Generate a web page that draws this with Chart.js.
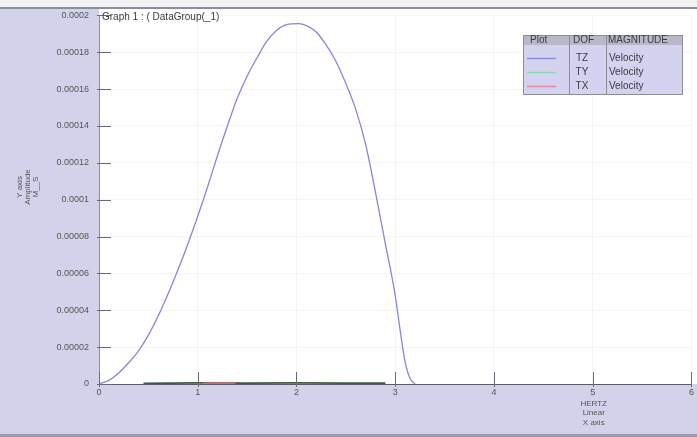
<!DOCTYPE html>
<html>
<head>
<meta charset="utf-8">
<script src="https://cdn.jsdelivr.net/npm/chart.js@4"></script>
<style>
  html, body { margin: 0; padding: 0; background: #d2d3ea; }
  #wrap { width: 697px; height: 437px; }
</style>
</head>
<body>
<div id="wrap"><canvas id="graph" width="697" height="437"></canvas></div>
<script>
// frequency (Hz) and velocity magnitude
const hertzTZ = [0, 0.1, 0.2, 0.3, 0.4, 0.5, 0.6, 0.7, 0.8, 0.9, 1.0, 1.1, 1.2, 1.3, 1.4, 1.5, 1.6, 1.7,
  1.8, 1.9, 2.02, 2.1, 2.2, 2.3, 2.4, 2.5, 2.6, 2.7, 2.8, 2.9, 3.0, 3.05, 3.1, 3.15, 3.2];
const velocityTZ = [0, 0.000002, 0.000006, 0.0000115, 0.000018, 0.0000265, 0.000037, 0.000049,
  0.000062, 0.000076, 0.000091, 0.000107, 0.000124, 0.000140, 0.000155, 0.000167, 0.000177,
  0.000186, 0.000192, 0.000195, 0.0001955, 0.0001945, 0.000191, 0.000184, 0.000175, 0.000163,
  0.000149, 0.000130, 0.000104, 0.000076, 0.000048, 0.000029, 0.000012, 0.000003, 0];
const hertzTY = [0.45, 0.73, 1.0, 1.5, 2.0, 2.5, 2.9];
const velocityTY = [0.0000003, 0.0000005, 0.0000006, 0.0000005, 0.0000006, 0.0000005, 0.0000004];
const hertzTX = [1.05, 1.2, 1.38];
const velocityTX = [0.0000004, 0.0000005, 0.0000004];

const yTickLabels = ['0', '0.00002', '0.00004', '0.00006', '0.00008', '0.0001',
  '0.00012', '0.00014', '0.00016', '0.00018', '0.0002'];
const xTickLabels = ['0', '1', '2', '3', '4', '5', '6'];

const legendDof = ['TZ', 'TY', 'TX'];
const legendMagnitude = ['Velocity', 'Velocity', 'Velocity'];
const legendColors = ['#8a8ae0', '#8cd8b0', '#e08aa2'];

const toPoints = (xs, ys) => xs.map((x, i) => ({ x: x, y: ys[i] }));

const FONT = '"Liberation Sans", Arial, sans-serif';

const decor = {
  id: 'decor',
  beforeDraw(chart) {
    const c = chart.ctx;
    const a = chart.chartArea;
    c.save();
    c.fillStyle = '#d2d3ea';
    c.fillRect(0, 0, chart.width, chart.height);
    c.fillStyle = '#f2f2f5';
    c.fillRect(0, 0, chart.width, 7);
    c.fillStyle = '#8b8c9c';
    c.fillRect(0, 7, chart.width, 2);
    c.fillStyle = '#ffffff';
    c.fillRect(a.left, 9, chart.width - a.left, a.bottom - 9);
    c.fillStyle = '#9c9db0';
    c.fillRect(0, 434, chart.width, 3);
    c.restore();
  },
  afterDatasetsDraw(chart) {
    const c = chart.ctx;
    const a = chart.chartArea;
    const xs = chart.scales.x;
    const ys = chart.scales.y;
    c.save();
    // tick marks inside the plot
    c.strokeStyle = '#6a6a78';
    c.lineWidth = 1;
    ys.ticks.forEach(t => {
      const py = Math.round(ys.getPixelForValue(t.value)) + 0.5;
      c.beginPath();
      c.moveTo(a.left - 2, py);
      c.lineTo(a.left + 12, py);
      c.stroke();
    });
    xs.ticks.forEach(t => {
      const px = Math.round(xs.getPixelForValue(t.value)) + 0.5;
      c.beginPath();
      c.moveTo(px, a.bottom - 12);
      c.lineTo(px, a.bottom + 3);
      c.stroke();
    });

    // graph title
    c.font = '10px ' + FONT;
    c.fillStyle = '#3a3a44';
    c.textBaseline = 'middle';
    c.textAlign = 'left';
    c.fillText('Graph 1 : ( DataGroup(_1)', a.left + 3, 17);

    // y axis title
    c.font = '8px ' + FONT;
    c.save();
    c.translate(28, 187);
    c.rotate(-Math.PI / 2);
    c.textAlign = 'center';
    c.fillStyle = '#555';
    c.fillText('Y axis', 0, -8);
    c.fillText('Amplitude', 0, 0);
    c.fillText('M__S', 0, 8);
    c.restore();

    // x axis title
    c.textAlign = 'center';
    c.fillStyle = '#555';
    const cx = xs.getPixelForValue(5) + 1;
    c.fillText('HERTZ', cx, 404);
    c.fillText('Linear', cx, 413);
    c.fillText('X axis', cx, 423);

    // legend table
    const L = 523, R = 682, T = 35, H = 45, B = 94;
    const col1 = 569, col2 = 606;
    c.fillStyle = '#d3d3ef';
    c.fillRect(L, T, R - L, B - T);
    c.fillStyle = '#b9b9c6';
    c.fillRect(L, T, R - L, H - T);
    c.strokeStyle = '#8c8c9a';
    c.strokeRect(L + 0.5, T + 0.5, R - L, B - T);
    c.beginPath();
    c.moveTo(col1 + 0.5, T); c.lineTo(col1 + 0.5, B);
    c.moveTo(col2 + 0.5, T); c.lineTo(col2 + 0.5, B);
    c.stroke();
    c.font = '10px ' + FONT;
    c.fillStyle = '#3a3a44';
    c.textAlign = 'left';
    c.fillText('Plot', 530, 40);
    c.fillText('DOF', 573, 40);
    c.fillText('MAGNITUDE', 608, 40);
    const rowY = [58, 72, 86];
    legendDof.forEach((d, i) => {
      c.strokeStyle = legendColors[i];
      c.lineWidth = 1.5;
      c.beginPath();
      c.moveTo(527, rowY[i] + 0.5);
      c.lineTo(556, rowY[i] + 0.5);
      c.stroke();
      c.fillStyle = '#3a3a44';
      c.textAlign = 'center';
      c.fillText(d, 582, rowY[i]);
      c.textAlign = 'left';
      c.fillText(legendMagnitude[i], 609, rowY[i]);
    });
    c.restore();
  }
};

new Chart(document.getElementById('graph'), {
  type: 'line',
  data: {
    datasets: [
      {
        label: 'TZ Velocity',
        data: toPoints(hertzTZ, velocityTZ),
        borderColor: '#8686dc',
        borderWidth: 1.3,
        pointRadius: 0,
        cubicInterpolationMode: 'monotone',
        order: 1
      },
      {
        label: 'TY Velocity',
        data: toPoints(hertzTY, velocityTY),
        borderColor: '#3f5a43',
        borderWidth: 1.8,
        pointRadius: 0,
        order: 2
      },
      {
        label: 'TX Velocity',
        data: toPoints(hertzTX, velocityTX),
        borderColor: '#d86878',
        borderWidth: 1.5,
        pointRadius: 0,
        order: 0
      }
    ]
  },
  options: {
    responsive: false,
    animation: false,
    layout: { padding: { left: 0, right: 5, top: 11, bottom: 0 } },
    plugins: {
      legend: { display: false },
      tooltip: { enabled: false }
    },
    scales: {
      x: {
        type: 'linear',
        min: 0,
        max: 6,
        afterFit: s => { s.height = 53; },
        ticks: {
          stepSize: 1,
          padding: 3,
          color: '#555',
          font: { family: FONT, size: 9 },
          maxRotation: 0,
          callback: v => xTickLabels[Math.round(v)]
        },
        grid: { color: 'rgba(120,120,120,0.07)', drawTicks: false },
        border: { color: '#5a5a66', width: 1 }
      },
      y: {
        min: 0,
        max: 0.0002,
        afterFit: s => { s.width = 99; },
        ticks: {
          stepSize: 0.00002,
          padding: 10,
          color: '#555',
          font: { family: FONT, size: 9 },
          callback: v => yTickLabels[Math.round(v / 0.00002)]
        },
        grid: { color: 'rgba(120,120,120,0.07)', drawTicks: false },
        border: { color: '#8b8c9c', width: 1 }
      }
    }
  },
  plugins: [decor]
});
</script>
</body>
</html>
